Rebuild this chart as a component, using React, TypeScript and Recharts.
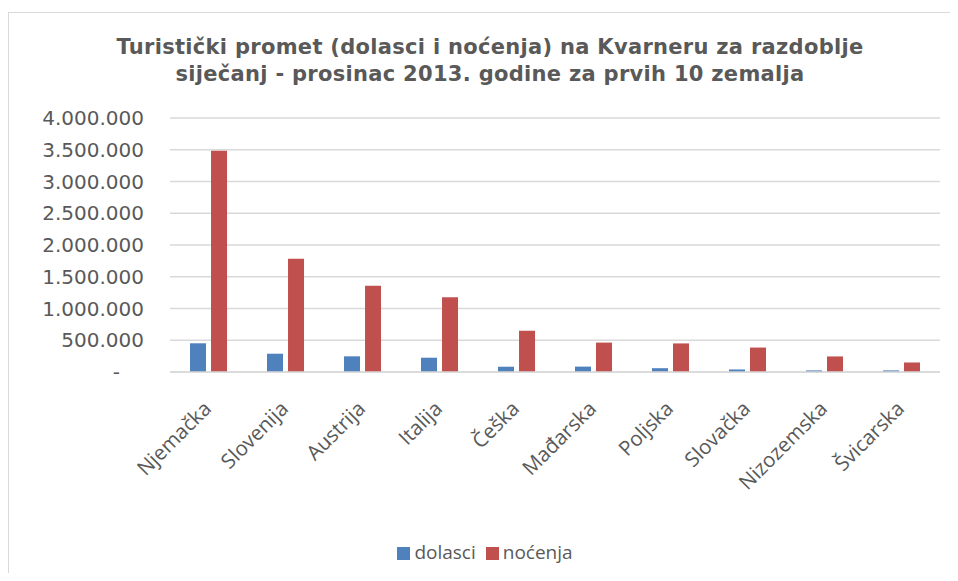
import { BarChart, Bar, XAxis, YAxis, CartesianGrid, Legend } from "recharts"

const countries = [
  "Njemačka",
  "Slovenija",
  "Austrija",
  "Italija",
  "Češka",
  "Mađarska",
  "Poljska",
  "Slovačka",
  "Nizozemska",
  "Švicarska"
]
const dolasci = [452000, 288000, 247000, 225000, 83000, 85000, 60000, 40000, 25000, 25000]
const nocenja = [3485000, 1784000, 1360000, 1176000, 650000, 463000, 450000, 385000, 245000, 150000]
const yTicks = [0, 500000, 1000000, 1500000, 2000000, 2500000, 3000000, 3500000, 4000000]

const data = countries.map((c, i) => ({
  name: c,
  dolasci: dolasci[i],
  nocenja: nocenja[i]
}))

const fmt = (v: number) =>
  v === 0 ? "-" : v.toString().replace(/\B(?=(\d{3})+(?!\d))/g, ".")

const YTick = (props: any) => {
  const { x, y, payload } = props
  const v = payload.value as number
  return (
    <text
      x={v === 0 ? x - 24 : x}
      y={y}
      dy={7}
      textAnchor="end"
      fill="#595959"
      fontSize={20}
      fontFamily="DejaVu Sans"
    >
      {fmt(v)}
    </text>
  )
}

const XTick = (props: any) => {
  const { x, y, payload } = props
  const ax = x + 4
  const ay = y + 30
  return (
    <text
      x={ax}
      y={ay}
      textAnchor="end"
      fill="#595959"
      fontSize={20.5}
      fontFamily="Open Sans"
      transform={`rotate(-45, ${ax}, ${ay})`}
    >
      {payload.value}
    </text>
  )
}

export default function App() {
  return (
    <div
      style={{
        position: "relative",
        top: 4,
        width: 950,
        height: 563,
        border: "1px solid #d9d9d9",
        background: "#fff"
      }}
    >
      <div
        style={{
          position: "absolute",
          top: 21,
          left: 0,
          width: 962,
          textAlign: "center",
          fontFamily: "DejaVu Sans",
          fontWeight: "bold",
          fontSize: 21,
          letterSpacing: 0.3,
          lineHeight: "27px",
          color: "#595959"
        }}
      >
        Turistički promet (dolasci i noćenja) na Kvarneru za razdoblje
        <br />
        siječanj - prosinac 2013. godine za prvih 10 zemalja
      </div>
      <BarChart
        width={950}
        height={563}
        data={data}
        margin={{ top: 105, right: 19, left: 0, bottom: 0 }}
        barGap={5}
        barCategoryGap="26%"
      >
        <CartesianGrid vertical={false} stroke="#d9d9d9" strokeWidth={1.5} />
        <XAxis
          dataKey="name"
          height={204}
          interval={0}
          tickLine={false}
          axisLine={{ stroke: "#d9d9d9", strokeWidth: 1.5 }}
          tick={<XTick />}
        />
        <YAxis
          width={161}
          domain={[0, 4000000]}
          ticks={yTicks}
          axisLine={false}
          tickLine={false}
          tickMargin={20}
          tick={<YTick />}
        />
        <Legend
          verticalAlign="middle"
          align="center"
          layout="horizontal"
          iconType="square"
          iconSize={13}
          wrapperStyle={{
            top: 526,
            left: 0,
            width: 962,
            fontFamily: "Open Sans",
            fontSize: 19,
            color: "#595959"
          }}
          formatter={(v: string) => <span style={{ color: "#595959" }}>{v}</span>}
        />
        <Bar dataKey="dolasci" name="dolasci" fill="#4F81BD" isAnimationActive={false} />
        <Bar dataKey="nocenja" name="noćenja" fill="#C0504D" isAnimationActive={false} />
      </BarChart>
    </div>
  )
}
